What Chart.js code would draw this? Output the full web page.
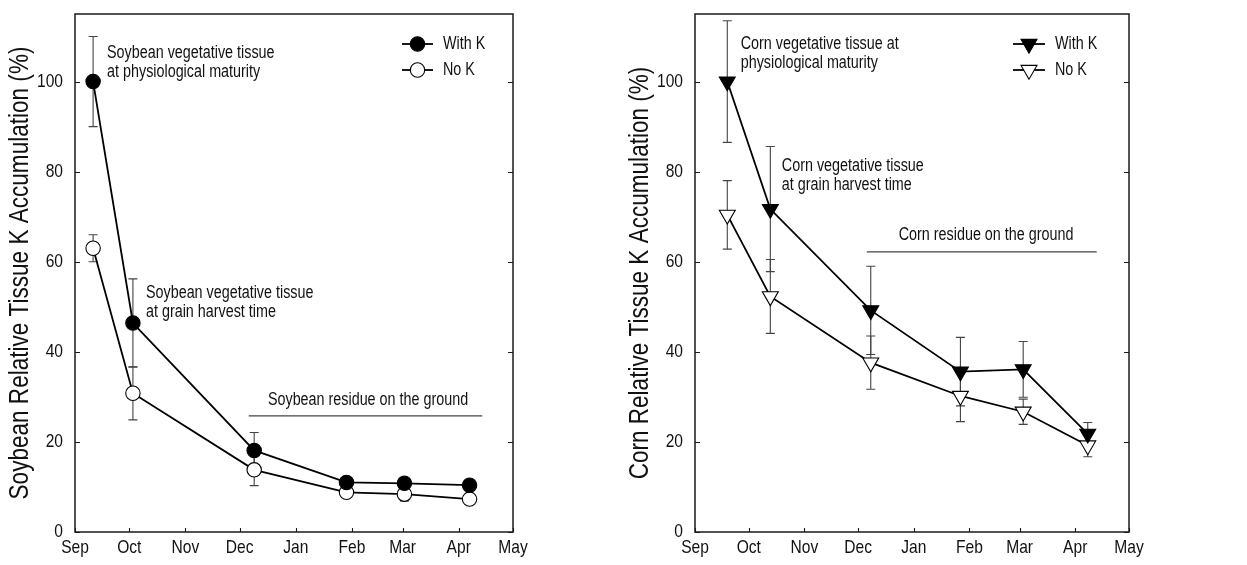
<!DOCTYPE html>
<html>
<head>
<meta charset="utf-8">
<script src="https://cdn.jsdelivr.net/npm/chart.js@4.4.1/dist/chart.umd.min.js"></script>
<style>
  html, body { margin: 0; padding: 0; background: #fff; overflow: hidden; }
  #wrap { position: relative; width: 1247px; height: 565px; }
  .panel { position: absolute; top: 0; height: 565px; }
  #soyPanel  { left: 0; }
  #cornPanel { left: 620px; }
  canvas { display: block; }
</style>
</head>
<body>
<div id="wrap">
  <div class="panel" id="soyPanel"><canvas id="soyChart" width="620" height="565"></canvas></div>
  <div class="panel" id="cornPanel"><canvas id="cornChart" width="627" height="565"></canvas></div>
</div>
<script>
// x values are days counted from Sep 1
var monthStarts = [0, 30, 61, 91, 122, 153, 181, 212, 242];
var monthLabels = ['Sep', 'Oct', 'Nov', 'Dec', 'Jan', 'Feb', 'Mar', 'Apr', 'May'];
var yTicks      = [0, 20, 40, 60, 80, 100];

var soyDays      = [10, 32, 99, 150, 182, 218];
var soyWithK     = [100, 46.4, 18.1, 11.0, 10.8, 10.4];
var soyWithKErr  = [10, 9.8, 4.0, 0.6, 0.5, 0.5];
var soyNoK       = [63, 30.8, 13.8, 8.8, 8.4, 7.3];
var soyNoKErr    = [3.0, 5.9, 3.5, 0.8, 1.5, 0.7];

var cornDays     = [18, 42, 98, 148, 183, 219];
var cornWithK    = [100, 71.7, 49.2, 35.6, 36.1, 21.8];
var cornWithKErr = [13.5, 13.9, 9.8, 7.6, 6.2, 2.5];
var cornNoK      = [70.4, 52.3, 37.6, 30.2, 26.7, 19.2];
var cornNoKErr   = [7.6, 8.2, 5.9, 5.7, 2.8, 2.5];

var NARROW = 0.82;   // the figure uses a condensed sans; squeeze glyphs to match
var FONT   = "'Liberation Sans', Arial, Helvetica, sans-serif";
var INK    = '#111';

function toPoints(xs, ys) {
  return xs.map(function (x, i) { return { x: x, y: ys[i] }; });
}

// every fillText on this context draws condensed glyphs around its anchor
function condenseText(ctx) {
  var baseFill = ctx.fillText;
  ctx.fillText = function (text, x, y) {
    this.save();
    this.translate(x, y);
    this.scale(NARROW, 1);
    baseFill.call(this, text, 0, 0);
    this.restore();
  };
}

function drawMarker(ctx, style, filled, x, y, r) {
  ctx.save();
  ctx.beginPath();
  if (style === 'circle') {
    ctx.arc(x, y, r, 0, Math.PI * 2);
  } else {
    // downward triangle, same geometry as Chart.js 'triangle' rotated 180
    ctx.moveTo(x, y + r);
    ctx.lineTo(x - 0.866 * r, y - 0.5 * r);
    ctx.lineTo(x + 0.866 * r, y - 0.5 * r);
    ctx.closePath();
  }
  ctx.fillStyle = filled ? '#000' : '#fff';
  ctx.fill();
  ctx.lineWidth = 1.1;
  ctx.strokeStyle = '#000';
  ctx.stroke();
  ctx.restore();
}

var panelDecor = {
  id: 'panelDecor',
  beforeDatasetsDraw: function (chart) {
    var ctx = chart.ctx, ys = chart.scales.y;
    ctx.save();
    ctx.strokeStyle = '#444';
    ctx.lineWidth = 1.1;
    chart.data.datasets.forEach(function (ds, i) {
      var meta = chart.getDatasetMeta(i);
      ds.errors.forEach(function (e, j) {
        var p = meta.data[j];
        var v = ds.data[j].y;
        var top = ys.getPixelForValue(v + e), bot = ys.getPixelForValue(v - e);
        ctx.beginPath();
        ctx.moveTo(p.x, top); ctx.lineTo(p.x, bot);
        ctx.moveTo(p.x - 4.5, top); ctx.lineTo(p.x + 4.5, top);
        ctx.moveTo(p.x - 4.5, bot); ctx.lineTo(p.x + 4.5, bot);
        ctx.stroke();
      });
    });
    ctx.restore();
  },
  afterDraw: function (chart, args, opts) {
    var ctx = chart.ctx, a = chart.chartArea;
    var xs = chart.scales.x, ys = chart.scales.y;
    ctx.save();
    // frame
    ctx.strokeStyle = '#1a1a1a';
    ctx.lineWidth = 1.5;
    ctx.strokeRect(a.left, a.top, a.right - a.left, a.bottom - a.top);
    // inward tick marks
    ctx.lineWidth = 1.1;
    ctx.beginPath();
    yTicks.forEach(function (v) {
      var py = Math.round(ys.getPixelForValue(v)) + 0.5;
      ctx.moveTo(a.left, py);  ctx.lineTo(a.left + 5, py);
      ctx.moveTo(a.right, py); ctx.lineTo(a.right - 5, py);
    });
    monthStarts.forEach(function (d) {
      var px = Math.round(xs.getPixelForValue(d)) + 0.5;
      ctx.moveTo(px, a.bottom); ctx.lineTo(px, a.bottom - 4);
    });
    ctx.stroke();

    // text notes, placed in data units
    ctx.fillStyle = INK;
    ctx.font = '17.5px ' + FONT;
    ctx.textBaseline = 'middle';
    opts.notes.forEach(function (n) {
      ctx.textAlign = n.align || 'left';
      ctx.fillText(n.text, xs.getPixelForValue(n.x), ys.getPixelForValue(n.y));
    });
    // residue span line
    var r = opts.span;
    ctx.strokeStyle = '#444';
    ctx.lineWidth = 1.2;
    ctx.beginPath();
    ctx.moveTo(xs.getPixelForValue(r.from), ys.getPixelForValue(r.y));
    ctx.lineTo(xs.getPixelForValue(r.to), ys.getPixelForValue(r.y));
    ctx.stroke();

    // legend
    var lg = opts.legend;
    chart.data.datasets.forEach(function (ds, i) {
      var y = lg.y + i * 26;
      ctx.strokeStyle = '#000';
      ctx.lineWidth = 1.8;
      ctx.beginPath();
      ctx.moveTo(lg.x0, y); ctx.lineTo(lg.x1, y);
      ctx.stroke();
      drawMarker(ctx, ds.pointStyle === 'circle' ? 'circle' : 'tri', i === 0,
                 (lg.x0 + lg.x1) / 2, y, ds.pointRadius);
      ctx.fillStyle = INK;
      ctx.textAlign = 'left';
      ctx.fillText(ds.label, lg.x1 + 10, y);
    });
    ctx.restore();
  }
};

function makeChart(id, cfg) {
  var canvas = document.getElementById(id);
  condenseText(canvas.getContext('2d'));
  var tri = cfg.marker === 'triangle';
  var common = {
    borderColor: '#000',
    borderWidth: 1.8,
    pointStyle: tri ? 'triangle' : 'circle',
    pointRotation: tri ? 180 : 0,
    pointRadius: tri ? 9.2 : 7.2,
    pointBorderColor: '#000',
    pointBorderWidth: 1.1,
    tension: 0,
    fill: false,
  };
  return new Chart(canvas, {
    type: 'line',
    data: {
      datasets: [
        Object.assign({ label: 'With K', data: toPoints(cfg.days, cfg.withK), errors: cfg.withKErr,
                        pointBackgroundColor: '#000' }, common),
        Object.assign({ label: 'No K', data: toPoints(cfg.days, cfg.noK), errors: cfg.noKErr,
                        pointBackgroundColor: '#fff' }, common),
      ],
    },
    options: {
      responsive: false,
      devicePixelRatio: 1,
      animation: false,
      events: [],
      layout: { padding: { top: 14, right: cfg.padRight, left: 0, bottom: 0 } },
      plugins: {
        legend: { display: false },
        tooltip: { enabled: false },
        panelDecor: { notes: cfg.notes, span: cfg.span, legend: cfg.legend },
      },
      scales: {
        x: {
          type: 'linear',
          min: 0, max: 242,
          grid: { display: false, drawTicks: false },
          border: { display: false },
          afterBuildTicks: function (s) { s.ticks = monthStarts.map(function (v) { return { value: v }; }); },
          afterFit: function (s) { s.height = 33; s.paddingLeft = 0; s.paddingRight = 0; },
          ticks: {
            padding: 4,
            color: INK,
            font: { family: FONT, size: 19 },
            maxRotation: 0,
            autoSkip: false,
            callback: function (v) { return monthLabels[monthStarts.indexOf(v)]; },
          },
        },
        y: {
          min: 0, max: 115,
          grid: { display: false, drawTicks: false },
          border: { display: false },
          afterBuildTicks: function (s) { s.ticks = yTicks.map(function (v) { return { value: v }; }); },
          afterFit: function (s) { s.width = 75; s.paddingTop = 0; s.paddingBottom = 0; },
          ticks: { padding: 12, color: INK, font: { family: FONT, size: 19 } },
          title: {
            display: true,
            text: cfg.yTitle,
            color: INK,
            font: { family: FONT, size: 27.5 },
            padding: { top: 4, bottom: 0 },
          },
        },
      },
    },
    plugins: [panelDecor],
  });
}

makeChart('soyChart', {
  marker: 'circle',
  days: soyDays, withK: soyWithK, withKErr: soyWithKErr, noK: soyNoK, noKErr: soyNoKErr,
  yTitle: 'Soybean Relative Tissue K Accumulation (%)',
  padRight: 107,
  notes: [
    { x: 17.7,  y: 106.4, text: 'Soybean vegetative tissue' },
    { x: 17.7,  y: 102.0, text: 'at physiological maturity' },
    { x: 39.2,  y: 53.1,  text: 'Soybean vegetative tissue' },
    { x: 39.2,  y: 48.7,  text: 'at grain harvest time' },
    { x: 161.9, y: 29.3,  text: 'Soybean residue on the ground', align: 'center' },
  ],
  span: { from: 96, to: 225, y: 25.8 },
  legend: { x0: 402, x1: 433, y: 44 },
});

makeChart('cornChart', {
  marker: 'triangle',
  days: cornDays, withK: cornWithK, withKErr: cornWithKErr, noK: cornNoK, noKErr: cornNoKErr,
  yTitle: 'Corn Relative Tissue K Accumulation (%)',
  padRight: 118,
  notes: [
    { x: 25.5,  y: 108.4, text: 'Corn vegetative tissue at' },
    { x: 25.5,  y: 104.0, text: 'physiological maturity' },
    { x: 48.4,  y: 81.2,  text: 'Corn vegetative tissue' },
    { x: 48.4,  y: 76.9,  text: 'at grain harvest time' },
    { x: 162.3, y: 65.8,  text: 'Corn residue on the ground', align: 'center' },
  ],
  span: { from: 95.8, to: 224, y: 62.2 },
  legend: { x0: 393, x1: 425, y: 44 },
});
</script>
</body>
</html>
